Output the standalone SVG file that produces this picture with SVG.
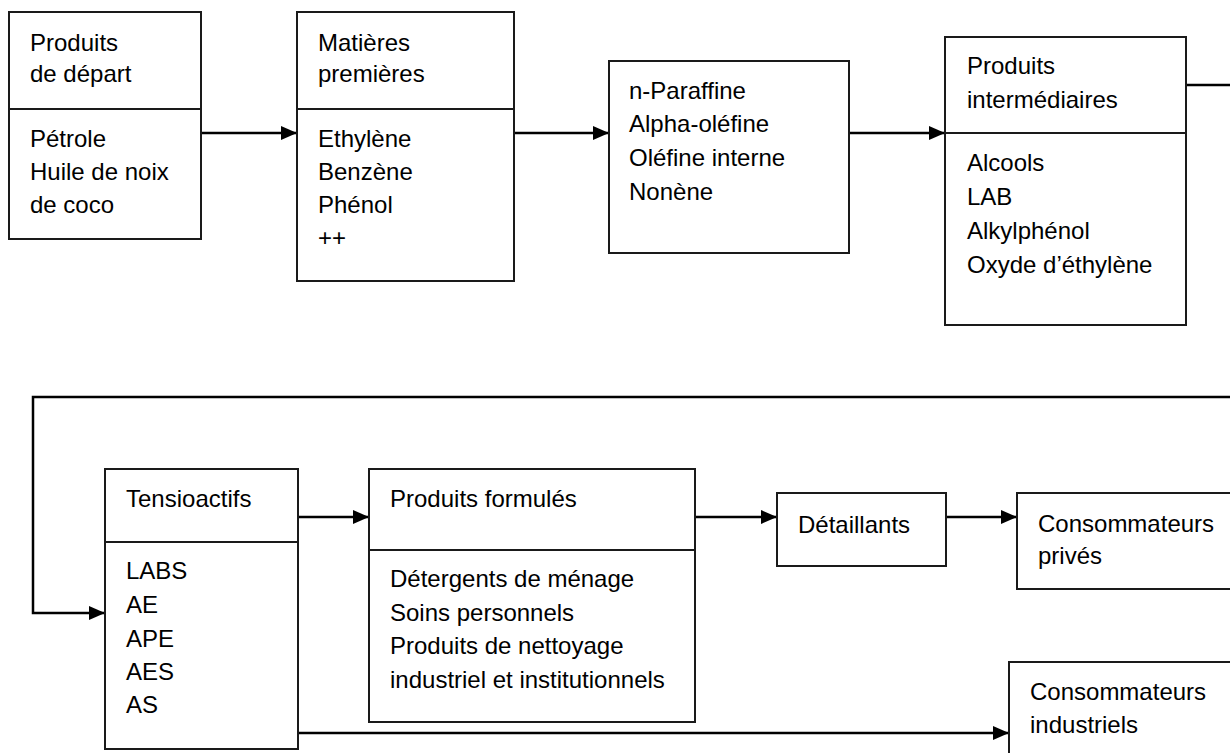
<svg xmlns="http://www.w3.org/2000/svg" width="1230" height="753" viewBox="0 0 1230 753">
<defs>
<marker id="ah" markerWidth="16" markerHeight="14" refX="16" refY="7" orient="auto" markerUnits="userSpaceOnUse">
<path d="M0,0 L16,7 L0,14 Z" fill="#000"/>
</marker>
<style>
.box{fill:#fff;stroke:#1a1a1a;stroke-width:2}
.div{stroke:#1a1a1a;stroke-width:2}
.t{font-family:"Liberation Sans",Arial,sans-serif;font-size:24px;fill:#000}
.c{fill:none;stroke:#000;stroke-width:2.5}
</style>
</defs>
<rect width="1230" height="753" fill="#fff"/>

<g id="connectors">
<path class="c" d="M201,133 H297" marker-end="url(#ah)"/>
<path class="c" d="M514,133 H609" marker-end="url(#ah)"/>
<path class="c" d="M849,133 H945" marker-end="url(#ah)"/>
<path class="c" d="M1186,85 H1232"/>
<path class="c" d="M1232,397 H33 V613 H105" marker-end="url(#ah)"/>
<path class="c" d="M298,517 H369" marker-end="url(#ah)"/>
<path class="c" d="M695,517 H777" marker-end="url(#ah)"/>
<path class="c" d="M946,517 H1017" marker-end="url(#ah)"/>
<path class="c" d="M298,733 H1009" marker-end="url(#ah)"/>
</g>

<g id="produits-depart">
<rect class="box" x="9" y="12" width="192" height="227"/>
<line class="div" x1="9" y1="109" x2="201" y2="109"/>
<text class="t" x="30" y="51">Produits</text>
<text class="t" x="30" y="82">de départ</text>
<text class="t" x="30" y="147">Pétrole</text>
<text class="t" x="30" y="180">Huile de noix</text>
<text class="t" x="30" y="213">de coco</text>
</g>

<g id="matieres-premieres">
<rect class="box" x="297" y="12" width="217" height="269"/>
<line class="div" x1="297" y1="109" x2="514" y2="109"/>
<text class="t" x="318" y="51">Matières</text>
<text class="t" x="318" y="82">premières</text>
<text class="t" x="318" y="147">Ethylène</text>
<text class="t" x="318" y="180">Benzène</text>
<text class="t" x="318" y="213">Phénol</text>
<text class="t" x="318" y="246">++</text>
</g>

<g id="olefines">
<rect class="box" x="609" y="61" width="240" height="192"/>
<text class="t" x="629" y="99">n-Paraffine</text>
<text class="t" x="629" y="132">Alpha-oléfine</text>
<text class="t" x="629" y="166">Oléfine interne</text>
<text class="t" x="629" y="200">Nonène</text>
</g>

<g id="produits-intermediaires">
<rect class="box" x="945" y="37" width="241" height="288"/>
<line class="div" x1="945" y1="133" x2="1186" y2="133"/>
<text class="t" x="967" y="74">Produits</text>
<text class="t" x="967" y="108">intermédiaires</text>
<text class="t" x="967" y="171">Alcools</text>
<text class="t" x="967" y="205">LAB</text>
<text class="t" x="967" y="239">Alkylphénol</text>
<text class="t" x="967" y="273">Oxyde d’éthylène</text>
</g>

<g id="tensioactifs">
<rect class="box" x="105" y="469" width="193" height="280"/>
<line class="div" x1="105" y1="542" x2="298" y2="542"/>
<text class="t" x="126" y="507">Tensioactifs</text>
<text class="t" x="126" y="579">LABS</text>
<text class="t" x="126" y="613">AE</text>
<text class="t" x="126" y="647">APE</text>
<text class="t" x="126" y="680">AES</text>
<text class="t" x="126" y="713">AS</text>
</g>

<g id="produits-formules">
<rect class="box" x="369" y="469" width="326" height="253"/>
<line class="div" x1="369" y1="550" x2="695" y2="550"/>
<text class="t" x="390" y="507">Produits formulés</text>
<text class="t" x="390" y="587">Détergents de ménage</text>
<text class="t" x="390" y="621">Soins personnels</text>
<text class="t" x="390" y="654">Produits de nettoyage</text>
<text class="t" x="390" y="688">industriel et institutionnels</text>
</g>

<g id="detaillants">
<rect class="box" x="777" y="493" width="169" height="73"/>
<text class="t" x="798" y="533">Détaillants</text>
</g>

<g id="consommateurs-prives">
<rect class="box" x="1017" y="493" width="230" height="96"/>
<text class="t" x="1038" y="532">Consommateurs</text>
<text class="t" x="1038" y="564">privés</text>
</g>

<g id="consommateurs-industriels">
<rect class="box" x="1009" y="662" width="240" height="110"/>
<text class="t" x="1030" y="700">Consommateurs</text>
<text class="t" x="1030" y="733">industriels</text>
</g>
</svg>
